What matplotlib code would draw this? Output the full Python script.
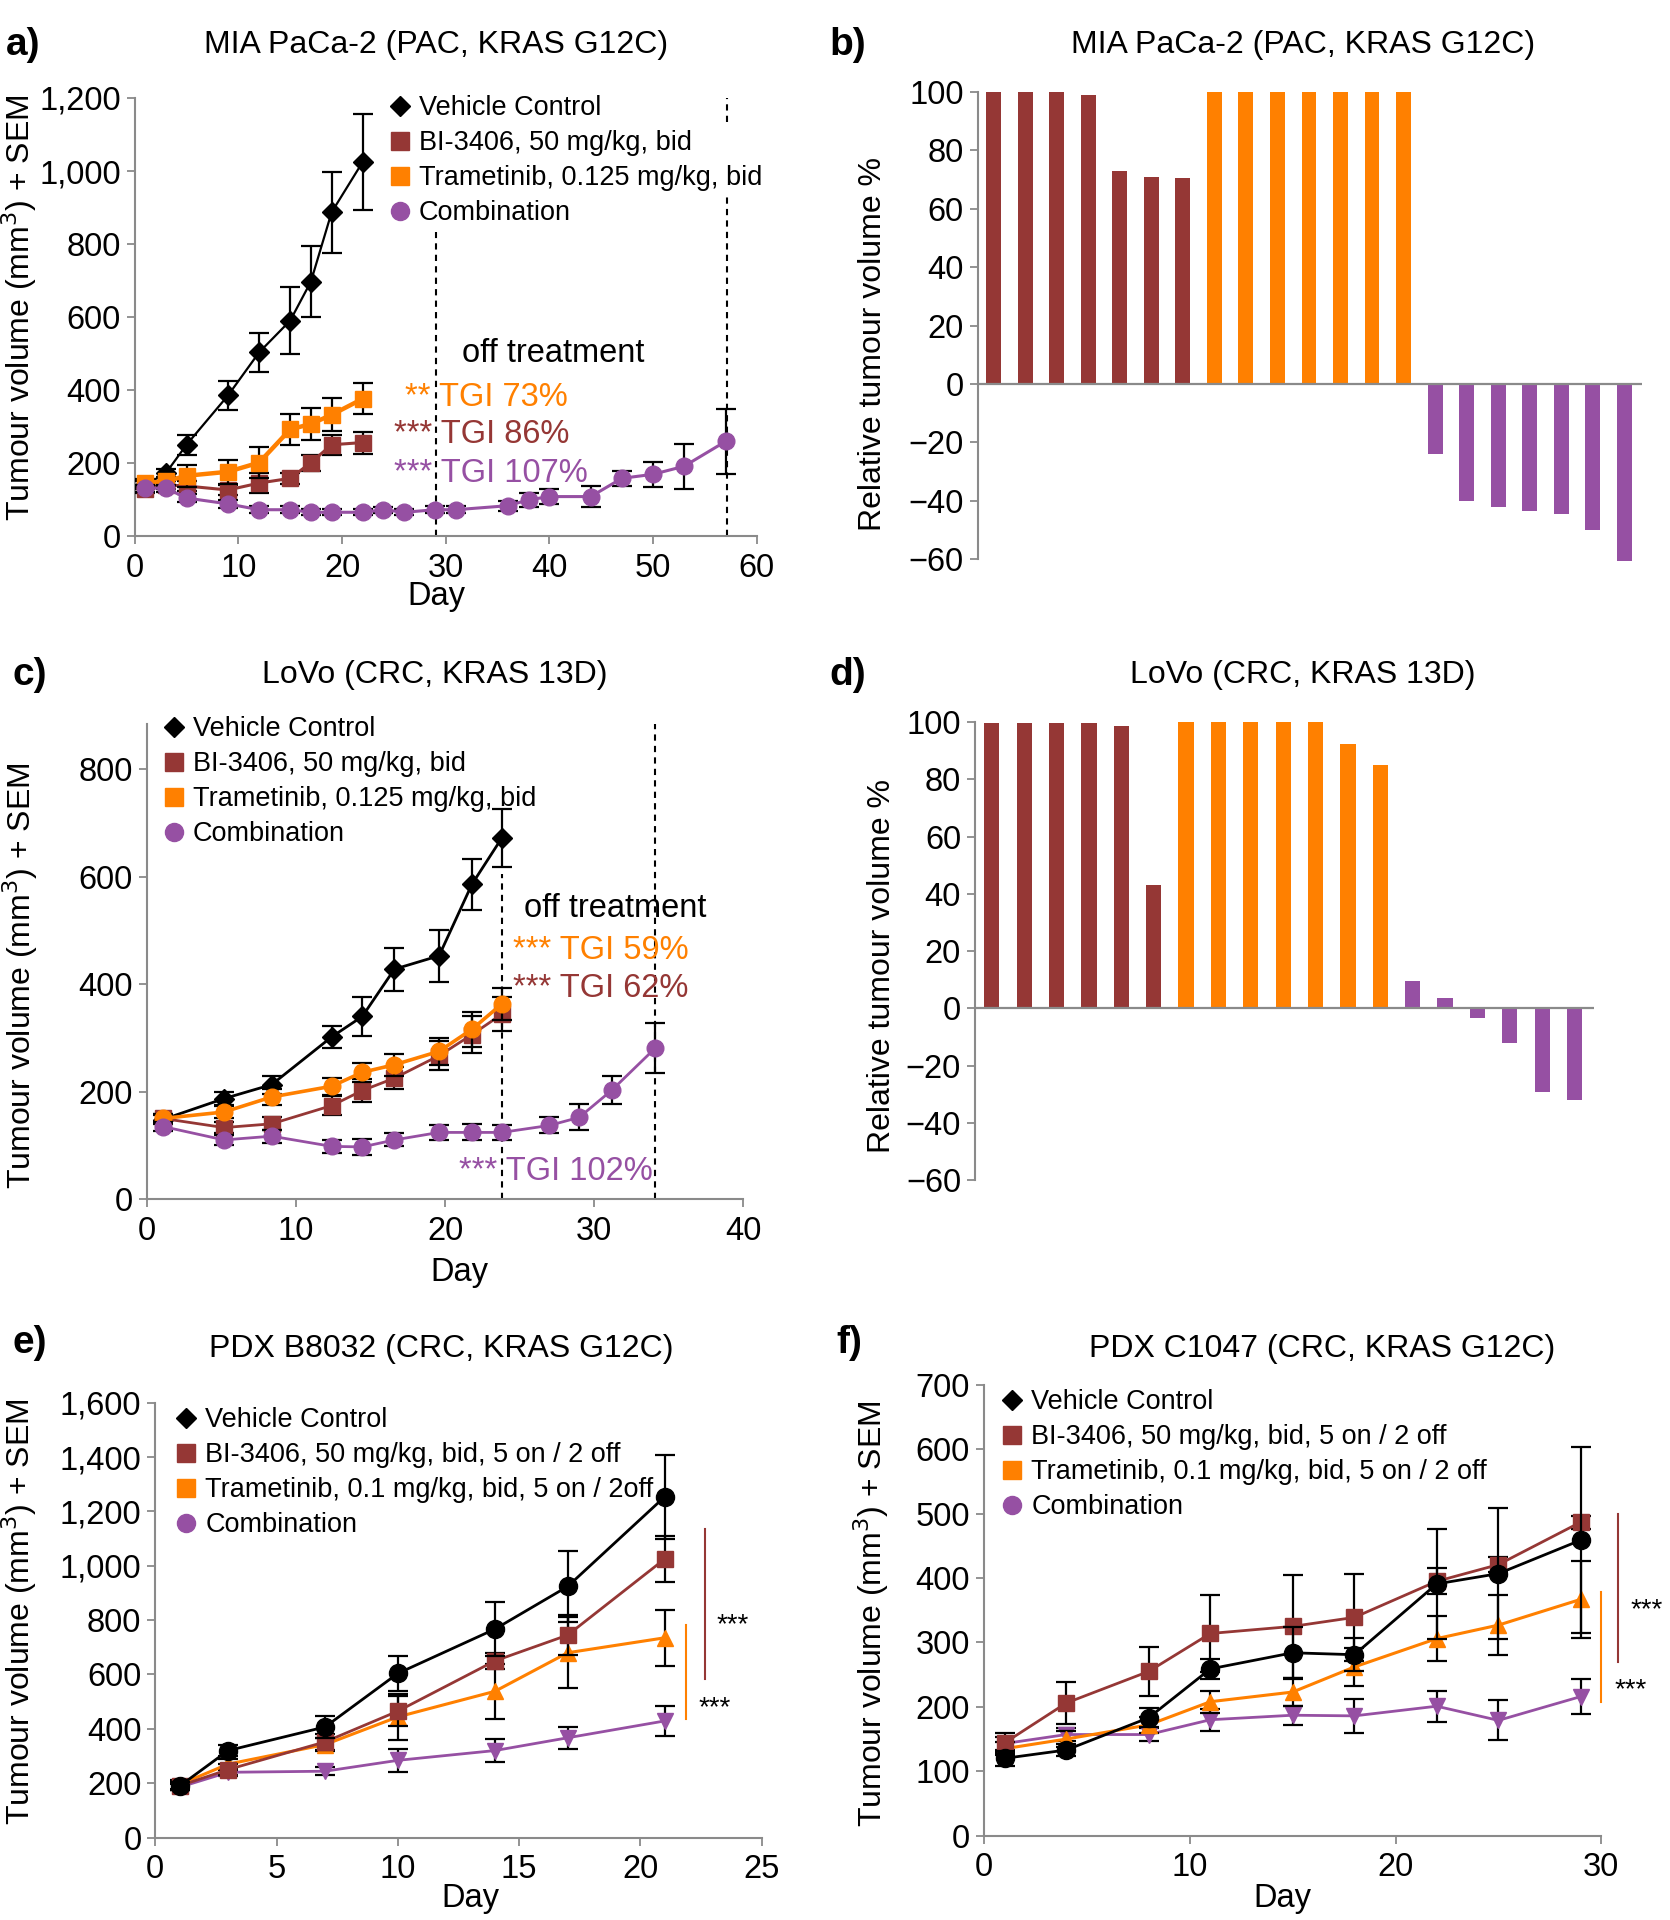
import matplotlib
matplotlib.use("Agg")
import matplotlib.pyplot as plt
from matplotlib.lines import Line2D
from matplotlib.ticker import FuncFormatter
import numpy as np

plt.rcParams['font.family'] = ['Liberation Sans', 'DejaVu Sans']

# ---------------- colours ----------------
BLACK = "#000000"
BROWN = "#953735"
ORANGE = "#FF8000"
PURPLE = "#9650A3"
GRAY = "#8a8a8a"

# ---------------- data ----------------
series_labels_ac = ["Vehicle Control", "BI-3406, 50 mg/kg, bid",
                    "Trametinib, 0.125 mg/kg, bid", "Combination"]
series_labels_e = ["Vehicle Control", "BI-3406, 50 mg/kg, bid, 5 on / 2 off",
                   "Trametinib, 0.1 mg/kg, bid, 5 on / 2off", "Combination"]
series_labels_f = ["Vehicle Control", "BI-3406, 50 mg/kg, bid, 5 on / 2 off",
                   "Trametinib, 0.1 mg/kg, bid, 5 on / 2 off", "Combination"]

# panel a: MIA PaCa-2
days_a = [1, 3, 5, 9, 12, 15, 17, 19, 22]
veh_a = [140, 172, 250, 385, 503, 590, 697, 887, 1025]
veh_a_err = [10, 12, 28, 40, 53, 92, 97, 111, 132]
bi_a = [128, 140, 137, 126, 145, 158, 201, 250, 256]
bi_a_err = [10, 12, 15, 15, 28, 15, 22, 28, 30]
tram_a = [145, 150, 165, 176, 201, 292, 307, 332, 376]
tram_a_err = [10, 12, 30, 33, 42, 42, 45, 45, 42]
days_combo_a = [1, 3, 5, 9, 12, 15, 17, 19, 22, 24, 26, 29, 31, 36, 38, 40, 44, 47, 50, 53, 57]
combo_a = [131, 131, 104, 88, 72, 72, 65, 65, 65, 72, 65, 72, 72, 83, 99, 108, 108, 158, 169, 191, 259]
combo_a_err = [10, 10, 12, 12, 10, 10, 8, 8, 8, 8, 8, 10, 10, 14, 20, 20, 28, 20, 34, 62, 88]
off_days_a = [29.06, 57.1]
tgi_a = ["** TGI 73%", "*** TGI 86%", "*** TGI 107%"]

# panel b: waterfall MIA PaCa-2
bi_b = [100, 100, 100, 99, 73, 71, 70.5]
tram_b = [100, 100, 100, 100, 100, 100, 100]
combo_b = [-24, -40, -42, -43.5, -44.5, -50, -62]

# panel c: LoVo
days_c = [1.07, 5.17, 8.37, 12.4, 14.45, 16.6, 19.6, 21.8, 23.8]
veh_c = [148, 187, 213, 302, 340, 428, 453, 586, 672]
veh_c_err = [8, 12, 17, 20, 36, 40, 48, 48, 54]
bi_c = [150, 133, 140, 174, 202, 225, 267, 306, 344]
bi_c_err = [8, 10, 12, 18, 22, 20, 27, 35, 32]
tram_c = [150, 162, 190, 210, 236, 250, 275, 316, 363]
tram_c_err = [8, 12, 15, 16, 18, 20, 25, 33, 30]
days_combo_c = [1.07, 5.17, 8.37, 12.4, 14.45, 16.6, 19.6, 21.8, 23.8, 27.0, 29.0, 31.2, 34.1]
combo_c = [135, 110, 117, 98, 97, 110, 124, 124, 124, 137, 152, 203, 281]
combo_c_err = [8, 10, 12, 12, 15, 12, 14, 15, 14, 15, 24, 27, 47]
off_days_c = [23.8, 34.1]
tgi_c = ["*** TGI 59%", "*** TGI 62%", "*** TGI 102%"]

# panel d: waterfall LoVo
bi_d = [99.7, 99.7, 99.7, 99.7, 98.8, 43]
tram_d = [100, 100, 100, 100, 100, 92.5, 85]
combo_d = [9.5, 3.5, -3.3, -12, -29.4, -32]

# panel e: PDX B8032
days_e = [1, 3, 7, 10, 14, 17, 21]
veh_e = [189, 320, 407, 604, 767, 924, 1254]
veh_e_err = [15, 20, 41, 65, 98, 129, 154]
bi_e = [190, 250, 352, 465, 650, 745, 1025]
bi_e_err = [15, 20, 30, 55, 30, 75, 85]
tram_e = [195, 270, 342, 444, 538, 680, 735]
tram_e_err = [15, 20, 25, 85, 100, 130, 104]
combo_e = [185, 240, 244, 284, 320, 367, 429]
combo_e_err = [12, 15, 15, 42, 42, 40, 54]

# panel f: PDX C1047
days_f = [1, 4, 8, 11, 15, 18, 22, 25, 29]
veh_f = [120, 133, 183, 259, 284, 281, 391, 407, 459]
veh_f_err = [12, 10, 15, 15, 40, 26, 85, 102, 145]
bi_f = [144, 206, 255, 314, 325, 339, 395, 421, 487]
bi_f_err = [15, 33, 38, 60, 80, 68, 20, 12, 10]
tram_f = [135, 150, 172, 208, 223, 262, 306, 327, 367]
tram_f_err = [10, 12, 12, 17, 22, 30, 35, 47, 60]
combo_f = [143, 157, 157, 180, 187, 186, 201, 179, 216]
combo_f_err = [10, 10, 10, 17, 15, 26, 24, 31, 27]

# ---------------- figure ----------------
W, H = 1670, 1920
fig = plt.figure(figsize=(W / 100, H / 100), dpi=100)


def fx(px):
    return px / W


def fy(py):
    return 1 - py / H


def axes_px(left, top, right, bottom):
    return fig.add_axes([left / W, 1 - bottom / H, (right - left) / W, (bottom - top) / H])


TICK_FS = 23.5
LAB_FS = 23.5
TITLE_FS = 23
LEG_FS = 19.5


def style_line_axes(ax, xmax, ymax, xstep, ystep, comma=False):
    for s in ["top", "right"]:
        ax.spines[s].set_visible(False)
    for s in ["left", "bottom"]:
        ax.spines[s].set_color(GRAY)
        ax.spines[s].set_linewidth(1.5)
    ax.set_xticks(np.arange(0, xmax + 0.1, xstep))
    ax.set_yticks(np.arange(0, ymax + 0.1, ystep))
    ax.tick_params(direction="out", length=6, width=1.3, color=GRAY,
                   labelsize=TICK_FS, labelcolor="black")
    ax.tick_params(axis="x", pad=6)
    ax.tick_params(axis="y", pad=4)
    if comma:
        ax.yaxis.set_major_formatter(FuncFormatter(lambda v, p: f"{v:,.0f}"))
    ax.patch.set_alpha(0)


def series(ax, x, y, err, color, marker, ms, lw, z):
    ax.errorbar(x, y, yerr=err, fmt="none", ecolor="black", elinewidth=1.6,
                capsize=7, capthick=1.6, zorder=z)
    ax.plot(x, y, color=color, marker=marker, ms=ms, mec=color, mfc=color,
            lw=lw, zorder=z + 0.5)


def legend(ax, labels, mx, my):
    handles = [
        Line2D([], [], ls="none", marker="D", color=BLACK, ms=10.5),
        Line2D([], [], ls="none", marker="s", color=BROWN, ms=13),
        Line2D([], [], ls="none", marker="s", color=ORANGE, ms=13),
        Line2D([], [], ls="none", marker="o", color=PURPLE, ms=13),
    ]
    leg = ax.legend(handles, labels, loc="upper left",
                    bbox_to_anchor=(fx(mx - 16), fy(my - 16)),
                    bbox_transform=fig.transFigure, frameon=False,
                    borderpad=0.2, borderaxespad=0, handlelength=0.8,
                    handletextpad=0.3, labelspacing=0.33, fontsize=LEG_FS)
    leg.set_zorder(20)
    return leg


def waterfall(ax, groups, colors, xlim):
    vals, cols = [], []
    for g, c in zip(groups, colors):
        vals += list(g)
        cols += [c] * len(g)
    x = np.arange(len(vals))
    ax.bar(x, vals, width=0.47, color=cols, zorder=2)
    ax.set_xlim(*xlim)
    ax.set_ylim(-60.5, 100.5)
    ax.axhline(0, color=GRAY, lw=1.6, zorder=3)
    for s in ["top", "right", "bottom"]:
        ax.spines[s].set_visible(False)
    ax.spines["left"].set_color(GRAY)
    ax.spines["left"].set_linewidth(1.5)
    ax.spines["left"].set_bounds(-60, 100)
    ax.set_xticks([])
    ax.set_yticks(np.arange(-60, 101, 20))
    ax.tick_params(axis="y", direction="out", length=6, width=1.3, color=GRAY,
                   labelsize=TICK_FS, labelcolor="black", pad=4)


def ftext(x, y, s, **kw):
    fig.text(fx(x), fy(y), s, **kw)


# ---------------- panel a ----------------
ax = axes_px(134.7, 98, 756.6, 536)
ax.set_xlim(0, 60)
ax.set_ylim(0, 1200)
style_line_axes(ax, 60, 1200, 10, 200, comma=True)
ax.plot([off_days_a[0]] * 2, [0, 834], ls=(0, (3, 2.5)), color="k", lw=1.5, zorder=1)
ax.plot([off_days_a[1]] * 2, [0, 931], ls=(0, (3, 2.5)), color="k", lw=1.5, zorder=1)
ax.plot([off_days_a[1]] * 2, [1134, 1200], ls=(0, (3, 2.5)), color="k", lw=1.5, zorder=1)
series(ax, days_a, veh_a, veh_a_err, BLACK, "D", 10, 1.6, 3)
series(ax, days_a, bi_a, bi_a_err, BROWN, "s", 11.5, 2.2, 4)
series(ax, days_a, tram_a, tram_a_err, ORANGE, "s", 11.5, 3.2, 5)
series(ax, days_combo_a, combo_a, combo_a_err, PURPLE, "o", 12, 2.2, 6)
legend(ax, series_labels_ac, 399.5, 106)
ax.text(31.57, 477, "off treatment", fontsize=LAB_FS, va="baseline", ha="left")
ax.text(26.08, 357, tgi_a[0], fontsize=LAB_FS, color=ORANGE, va="baseline")
ax.text(25.02, 255, tgi_a[1], fontsize=LAB_FS, color=BROWN, va="baseline")
ax.text(25.02, 149, tgi_a[2], fontsize=LAB_FS, color=PURPLE, va="baseline")

# ---------------- panel b ----------------
ax = axes_px(977.8, 90.6, 1641.7, 560.7)
waterfall(ax, [bi_b, tram_b, combo_b], [BROWN, ORANGE, PURPLE], (-0.5, 20.55))

# ---------------- panel c ----------------
ax = axes_px(146.9, 723.8, 743.2, 1199)
ax.set_xlim(0, 40)
ax.set_ylim(0, 885)
style_line_axes(ax, 40, 800, 10, 200)
ax.plot([off_days_c[0]] * 2, [0, 605], ls=(0, (3, 2.5)), color="k", lw=1.5, zorder=1)
ax.plot([off_days_c[1]] * 2, [0, 885], ls=(0, (3, 2.5)), color="k", lw=1.5, zorder=1)
series(ax, days_c, veh_c, veh_c_err, BLACK, "D", 10, 2.0, 3)
series(ax, days_c, bi_c, bi_c_err, BROWN, "s", 11.5, 2.0, 4)
series(ax, days_c, tram_c, tram_c_err, ORANGE, "o", 12, 2.6, 5)
series(ax, days_combo_c, combo_c, combo_c_err, PURPLE, "o", 12, 2.0, 6)
legend(ax, series_labels_ac, 173.5, 727)
ax.text(25.32, 526, "off treatment", fontsize=LAB_FS, va="baseline", ha="left")
ax.text(24.54, 447, tgi_c[0], fontsize=LAB_FS, color=ORANGE, va="baseline")
ax.text(24.54, 377, tgi_c[1], fontsize=LAB_FS, color=BROWN, va="baseline")
ax.text(20.94, 36, tgi_c[2], fontsize=LAB_FS, color=PURPLE, va="baseline")

# ---------------- panel d ----------------
ax = axes_px(975, 720.7, 1594, 1181.5)
waterfall(ax, [bi_d, tram_d, combo_d], [BROWN, ORANGE, PURPLE], (-0.52, 18.6))

# ---------------- panel e ----------------
ax = axes_px(155.3, 1402.8, 761.7, 1837.5)
ax.set_xlim(0, 25)
ax.set_ylim(0, 1600)
style_line_axes(ax, 25, 1600, 5, 200, comma=True)
series(ax, days_e, combo_e, combo_e_err, PURPLE, "v", 12, 2.0, 3)
series(ax, days_e, tram_e, tram_e_err, ORANGE, "^", 12, 2.2, 4)
series(ax, days_e, bi_e, bi_e_err, BROWN, "s", 12, 2.0, 5)
series(ax, days_e, veh_e, veh_e_err, BLACK, "o", 13, 2.0, 6)
legend(ax, series_labels_e, 186, 1417.8)
ax.plot([22.66, 22.66], [582, 1134], color=BROWN, lw=1.5, clip_on=False)
ax.plot([21.86, 21.86], [436, 782], color=ORANGE, lw=1.5, clip_on=False)
ax.text(23.14, 756, "***", fontsize=20, va="baseline", clip_on=False)
ax.text(22.4, 451, "***", fontsize=20, va="baseline", clip_on=False)

# ---------------- panel f ----------------
ax = axes_px(984, 1385, 1601.3, 1835.6)
ax.set_xlim(0, 30)
ax.set_ylim(0, 700)
style_line_axes(ax, 30, 700, 10, 100)
series(ax, days_f, combo_f, combo_f_err, PURPLE, "v", 12, 2.0, 3)
series(ax, days_f, tram_f, tram_f_err, ORANGE, "^", 12, 2.2, 4)
series(ax, days_f, bi_f, bi_f_err, BROWN, "s", 12, 2.0, 5)
series(ax, days_f, veh_f, veh_f_err, BLACK, "o", 13, 2.0, 6)
legend(ax, series_labels_f, 1012, 1400)
ax.plot([30.81, 30.81], [270, 500], color=BROWN, lw=1.5, clip_on=False)
ax.plot([29.97, 29.97], [207, 379], color=ORANGE, lw=1.5, clip_on=False)
ax.text(31.4, 340, "***", fontsize=20, va="baseline", clip_on=False)
ax.text(30.65, 215, "***", fontsize=20, va="baseline", clip_on=False)

# ---------------- titles, labels ----------------
titles = [("MIA PaCa-2 (PAC, KRAS G12C)", 436, 45), ("MIA PaCa-2 (PAC, KRAS G12C)", 1303, 45),
          ("LoVo (CRC, KRAS 13D)", 435, 675), ("LoVo (CRC, KRAS 13D)", 1303, 675),
          ("PDX B8032 (CRC, KRAS G12C)", 441, 1349), ("PDX C1047 (CRC, KRAS G12C)", 1322, 1349)]
for t, x, y in titles:
    ftext(x, y, t, fontsize=TITLE_FS, ha="center", va="center")

letters = [("a)", 6, 45), ("b)", 829, 45), ("c)", 12, 675), ("d)", 829, 675),
           ("e)", 12, 1343), ("f)", 836, 1343)]
for t, x, y in letters:
    ftext(x, y, t, fontsize=28, fontweight="bold", ha="left", va="center")

ylab_tv = "Tumour volume (mm$^3$) + SEM"
ylab_rel = "Relative tumour volume %"
for t, x, y in [(ylab_tv, 19, 308), (ylab_rel, 873, 344), (ylab_tv, 20, 976),
                (ylab_rel, 882, 966), (ylab_tv, 19, 1612), (ylab_tv, 871, 1614)]:
    ftext(x, y, t, fontsize=23, rotation=90, ha="center", va="center")

for x, y in [(436, 597), (459, 1273), (470, 1899), (1282, 1899)]:
    ftext(x, y, "Day", fontsize=LAB_FS, ha="center", va="center")

fig.savefig("out.png", dpi=100)
